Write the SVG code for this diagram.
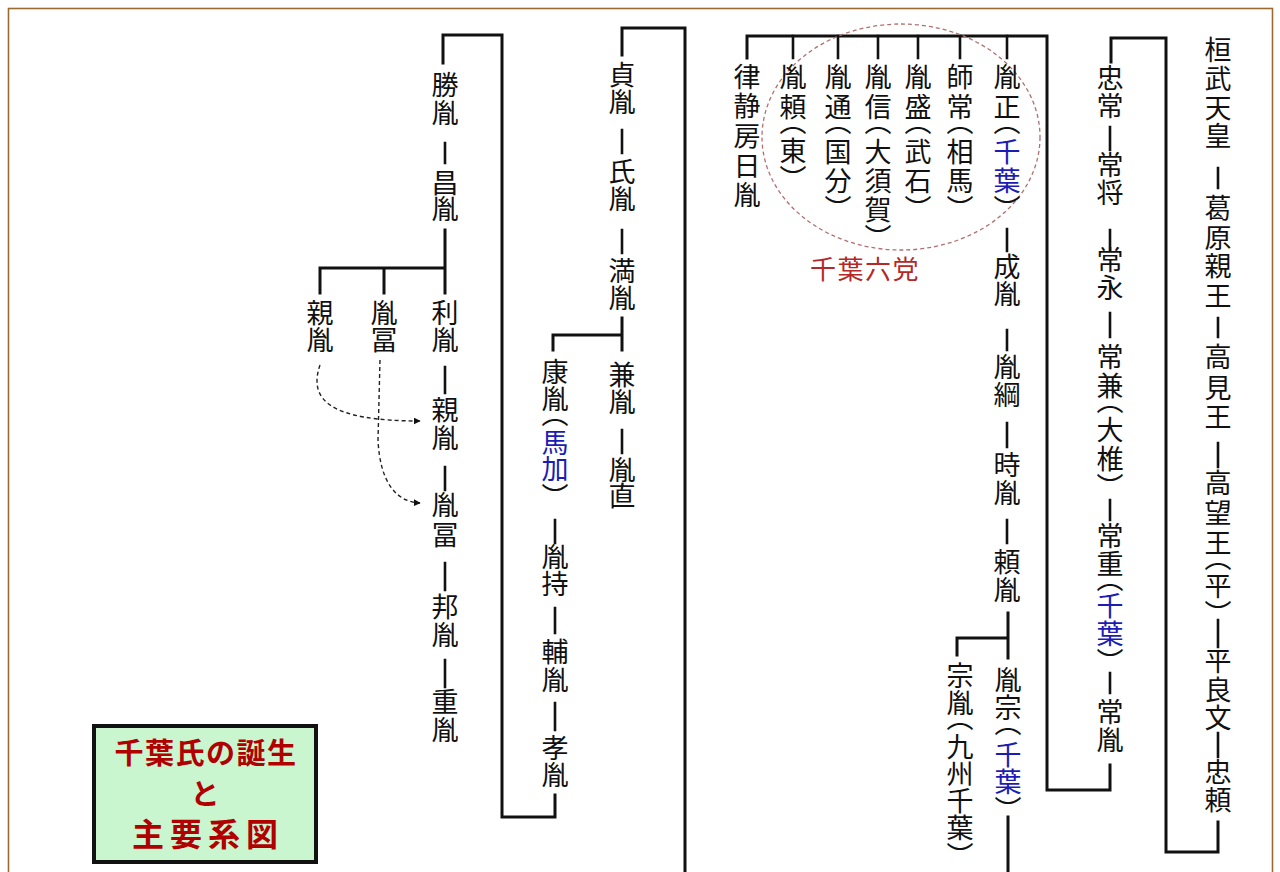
<svg xmlns="http://www.w3.org/2000/svg" width="1280" height="872" viewBox="0 0 1280 872">
<style>
.v{writing-mode:vertical-rl;text-orientation:upright;font-family:"Noto Sans CJK JP","Noto Sans CJK SC",sans-serif;font-size:27px;fill:#111}
.b{fill:#1c1cb4}
.ln{fill:none;stroke:#111;stroke-width:2.6;stroke-linecap:square;stroke-linejoin:miter}
.br{stroke-width:3}
.dash{fill:none;stroke:#222;stroke-width:1.4;stroke-dasharray:4 3}
.party{fill:#b42828;font-family:"Noto Sans CJK JP",sans-serif;font-size:26px;letter-spacing:1.5px}
.title{fill:#b00000;font-family:"Noto Sans CJK JP",sans-serif;font-size:29px;font-weight:bold;text-anchor:middle}
</style>
<defs>
<marker id="ah" viewBox="0 0 10 10" refX="9" refY="5" markerWidth="7" markerHeight="7" orient="auto" markerUnits="userSpaceOnUse">
<path d="M0 0L10 5L0 10z" fill="#111"/>
</marker>
</defs>
<rect x="0" y="0" width="1280" height="872" fill="#ffffff"/>
<rect x="8.5" y="8.5" width="1264" height="900" fill="none" stroke="#9a6a32" stroke-width="1.6"/>

<g id="connectors">
<path class="ln" d="M1218 168V188M1218 318V337M1218 443V467M1218 620V647M1218 733V757"/>
<path class="ln br" d="M1218 822V852H1166V38H1111V62"/>
<path class="ln" d="M1110 127V150M1110 230V250M1110 313V337M1110 500V520M1110 673V693"/>
<path class="ln br" d="M1110 765V790H1047V36H747V58"/>
<path class="ln" d="M793 36V58M838 36V58M878 36V58M918 36V58M960 36V58M1007 36V58"/>
<path class="ln" d="M1007 229V251M1007 330V350M1007 423V447M1007 520V543"/>
<path class="ln br" d="M1008 613V658M1008 638H957V655"/>
<path class="ln br" d="M1008 817V880"/>
<path class="ln br" d="M685 880V28H622V55"/>
<path class="ln" d="M622 130V153M622 230V253M622 430V453"/>
<path class="ln br" d="M622 318V350M622 335H553V350"/>
<path class="ln" d="M555 520V543M555 608V633M555 703V730"/>
<path class="ln br" d="M555 795V817H502V35H443V63"/>
<path class="ln" d="M445 143V163M445 367V393M445 467V490M445 563V590M445 660V687"/>
<path class="ln br" d="M445 230V268H320V293M384 268V293M445 268V293"/>
<path class="dash" d="M320 365C308 400 330 421 420 421" marker-end="url(#ah)"/>
<path class="dash" d="M380 360L378 440C380 482 396 502 420 503" marker-end="url(#ah)"/>
<ellipse cx="901" cy="137" rx="139" ry="113" fill="none" stroke="#b07070" stroke-width="1.3" stroke-dasharray="4 3"/>
</g>

<g id="n-kanmu"><text class="v" x="1218" y="36.5 65.5 94.5 122.5">桓武天皇</text></g>
<g id="n-kazurahara"><text class="v" x="1218" y="194.5 224.5 252.5 282.5">葛原親王</text></g>
<g id="n-takami"><text class="v" x="1218" y="343.5 374.5 403.5">高見王</text></g>
<g id="n-takamochi"><text class="v" x="1218" y="469.5 499.5 529.5 544 572.5 600.5">高望王（平）</text></g>
<g id="n-yoshifumi"><text class="v" x="1218" y="647.5 676.5 704.5">平良文</text></g>
<g id="n-tadayori"><text class="v" x="1218" y="758.5 786.5">忠頼</text></g>

<g id="n-tadatsune"><text class="v" x="1110" y="64.5 92.5">忠常</text></g>
<g id="n-tsunemasa"><text class="v" x="1110" y="151.5 179.5">常将</text></g>
<g id="n-tsunenaga"><text class="v" x="1110" y="246.5 274.5">常永</text></g>
<g id="n-tsunekane"><text class="v" x="1110" y="343.5 372.5 387 416 445 473">常兼（大椎）</text></g>
<g id="n-tsuneshige"><text class="v" x="1110" y="522.5 550.5 565">常重（<tspan class="b" y="592.5 620.5">千葉</tspan><tspan y="648.5">）</tspan></text></g>
<g id="n-tsunetane"><text class="v" x="1110" y="698.5 726.5">常胤</text></g>

<g id="n-ritsujo"><text class="v" x="747" y="63.5 92.5 122.5 152.5 181.5">律静房日胤</text></g>
<g id="n-taneyori"><text class="v" x="793" y="63.5 93.5 108 137.5 165.5">胤頼（東）</text></g>
<g id="n-tanemichi"><text class="v" x="838" y="63.5 93.5 108 138.5 167.5 195.5">胤通（国分）</text></g>
<g id="n-tanenobu"><text class="v" x="878" y="63.5 93.5 108 138.5 167.5 196.5 224.5">胤信（大須賀）</text></g>
<g id="n-tanemori"><text class="v" x="918" y="63.5 93.5 108 138.5 167.5 195.5">胤盛（武石）</text></g>
<g id="n-morotsune"><text class="v" x="960" y="63.5 93.5 108 138.5 167.5 195.5">師常（相馬）</text></g>
<g id="n-tanemasa"><text class="v" x="1007" y="63.5 93.5 108">胤正（<tspan class="b" y="138.5 167.5">千葉</tspan><tspan y="195.5">）</tspan></text></g>
<g id="n-rikuto"><text class="party" x="810" y="279">千葉六党</text></g>

<g id="n-narutane"><text class="v" x="1007" y="253.5 280.5">成胤</text></g>
<g id="n-tanetsuna"><text class="v" x="1007" y="353.5 381.5">胤綱</text></g>
<g id="n-tokitane"><text class="v" x="1007" y="451.5 479.5">時胤</text></g>
<g id="n-yoritane"><text class="v" x="1007" y="548.5 576.5">頼胤</text></g>
<g id="n-tanemune"><text class="v" x="1008" y="666.5 694.5 709">胤宗（<tspan class="b" y="741.5 768.5">千葉</tspan><tspan y="796.5">）</tspan></text></g>
<g id="n-munetane"><text class="v" x="960" y="662.5 689.5 704 733.5 760.5 787.5 814.5 842.5">宗胤（九州千葉）</text></g>

<g id="n-sadatane"><text class="v" x="622" y="61.5 88.5">貞胤</text></g>
<g id="n-ujitane"><text class="v" x="622" y="158.5 185.5">氏胤</text></g>
<g id="n-mitsutane"><text class="v" x="622" y="257.5 284.5">満胤</text></g>
<g id="n-kanetane"><text class="v" x="622" y="361.5 388.5">兼胤</text></g>
<g id="n-tanenao"><text class="v" x="622" y="456.5 482.5">胤直</text></g>
<g id="n-yasutane"><text class="v" x="555" y="358.5 385.5 400">康胤（<tspan class="b" y="429.5 455.5">馬加</tspan><tspan y="483.5">）</tspan></text></g>
<g id="n-tanemochi"><text class="v" x="555" y="543.5 570.5">胤持</text></g>
<g id="n-suketane"><text class="v" x="555" y="638.5 666.5">輔胤</text></g>
<g id="n-takatane"><text class="v" x="555" y="734.5 761.5">孝胤</text></g>

<g id="n-katsutane"><text class="v" x="445" y="71.5 99.5">勝胤</text></g>
<g id="n-masatane"><text class="v" x="445" y="169.5 195.5">昌胤</text></g>
<g id="n-chikatane1"><text class="v" x="320" y="299.5 326.5">親胤</text></g>
<g id="n-tanetomi1"><text class="v" x="384" y="299.5 326.5">胤冨</text></g>
<g id="n-toshitane"><text class="v" x="445" y="299.5 326.5">利胤</text></g>
<g id="n-chikatane2"><text class="v" x="445" y="396.5 424.5">親胤</text></g>
<g id="n-tanetomi2"><text class="v" x="445" y="491.5 521.5">胤冨</text></g>
<g id="n-kunitane"><text class="v" x="445" y="593.5 621.5">邦胤</text></g>
<g id="n-shigetane"><text class="v" x="445" y="688.5 716.5">重胤</text></g>

<g id="n-title">
<rect x="94" y="726" width="222" height="136" fill="#c9f5cf" stroke="#111" stroke-width="4"/>
<text class="title" x="206" y="764" style="letter-spacing:1.5px">千葉氏の誕生</text>
<text class="title" x="205" y="805">と</text>
<text class="title" x="208" y="846" style="font-size:32px;letter-spacing:6px">主要系図</text>
</g>
</svg>
